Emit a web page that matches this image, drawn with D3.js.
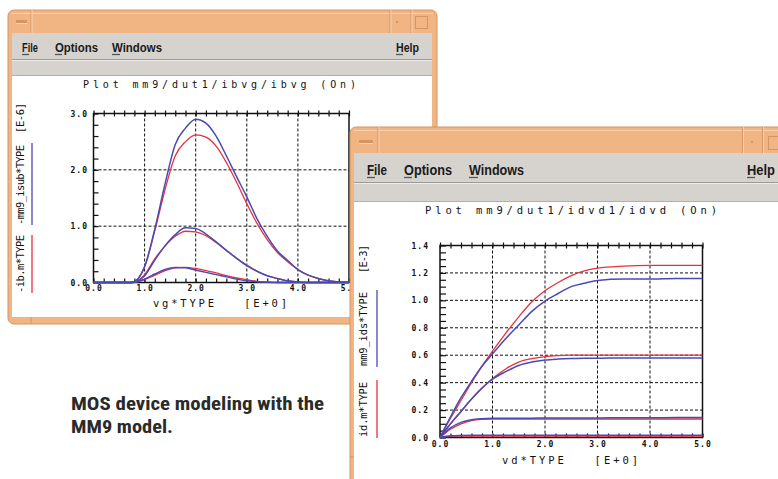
<!DOCTYPE html>
<html>
<head>
<meta charset="utf-8">
<script src="https://cdn.jsdelivr.net/npm/d3@7"></script>
<style>
  body { margin: 0; background: #fff; }
  svg { display: block; }
</style>
</head>
<body>
<svg id="chart" width="778" height="479"></svg>
<script>
// ---- Substrate current vs gate voltage (ibvg), units 1e-6 ----
const vgSweep   = [0, 0.5, 0.75, 1.0, 1.2, 1.4, 1.6, 1.8, 2.0, 2.2, 2.4, 2.6, 2.8, 3.0, 3.2, 3.4, 3.6, 3.8, 4.0, 4.2, 4.4, 4.6, 4.8, 5.0];
const ibSimHigh  = [0, 0, 0, 0.28, 0.95, 1.75, 2.45, 2.74, 2.90, 2.83, 2.60, 2.25, 1.88, 1.52, 1.13, 0.82, 0.56, 0.39, 0.23, 0.13, 0.07, 0.03, 0.01, 0];
const ibMeasHigh = [0, 0, 0, 0.28, 0.92, 1.65, 2.25, 2.50, 2.62, 2.58, 2.42, 2.13, 1.78, 1.40, 1.05, 0.76, 0.53, 0.37, 0.23, 0.13, 0.07, 0.03, 0.01, 0];
const ibSimMid   = [0, 0, 0, 0.12, 0.40, 0.65, 0.85, 0.97, 0.96, 0.86, 0.72, 0.57, 0.43, 0.30, 0.20, 0.12, 0.07, 0.03, 0.01, 0, 0, 0, 0, 0];
const ibMeasMid  = [0, 0, 0, 0.14, 0.42, 0.65, 0.82, 0.91, 0.90, 0.83, 0.71, 0.57, 0.43, 0.31, 0.20, 0.12, 0.07, 0.03, 0.01, 0, 0, 0, 0, 0];
const ibSimLow   = [0, 0, 0, 0.06, 0.15, 0.23, 0.265, 0.26, 0.22, 0.18, 0.14, 0.10, 0.06, 0.03, 0.015, 0.005, 0, 0, 0, 0, 0, 0, 0, 0];
const ibMeasLow  = [0, 0, 0, 0.05, 0.13, 0.21, 0.26, 0.27, 0.25, 0.21, 0.17, 0.12, 0.08, 0.05, 0.02, 0.01, 0, 0, 0, 0, 0, 0, 0, 0];
const vgTicks = [0, 1, 2, 3, 4, 5];
const ibTicks = [0, 1, 2, 3];

// ---- Drain current vs drain voltage (idvd), units 1e-3 ----
const vdSweep    = [0, 0.2, 0.4, 0.6, 0.8, 1.0, 1.25, 1.5, 1.75, 2.0, 2.25, 2.5, 2.75, 3.0, 3.5, 4.0, 4.5, 5.0];
const idMeasHigh = [0, 0.14, 0.27, 0.40, 0.52, 0.63, 0.76, 0.88, 0.99, 1.07, 1.13, 1.18, 1.215, 1.235, 1.25, 1.255, 1.255, 1.255];
const idSimHigh  = [0, 0.15, 0.29, 0.41, 0.52, 0.61, 0.72, 0.82, 0.92, 0.995, 1.05, 1.10, 1.125, 1.145, 1.155, 1.155, 1.16, 1.16];
const idMeasMid  = [0, 0.10, 0.19, 0.28, 0.36, 0.43, 0.50, 0.55, 0.575, 0.59, 0.597, 0.60, 0.60, 0.60, 0.60, 0.60, 0.60, 0.60];
const idSimMid   = [0, 0.10, 0.19, 0.28, 0.36, 0.425, 0.48, 0.525, 0.55, 0.565, 0.572, 0.576, 0.578, 0.578, 0.58, 0.58, 0.58, 0.58];
const idMeasLow  = [0, 0.06, 0.10, 0.123, 0.132, 0.135, 0.135, 0.135, 0.135, 0.135, 0.135, 0.135, 0.135, 0.135, 0.135, 0.135, 0.135, 0.135];
const idSimLow   = [0, 0.07, 0.11, 0.13, 0.137, 0.14, 0.14, 0.141, 0.141, 0.142, 0.142, 0.142, 0.143, 0.143, 0.144, 0.144, 0.145, 0.145];
const idMeasZero = [0, 0.008, 0.010, 0.011, 0.011, 0.011, 0.011, 0.011, 0.011, 0.011, 0.011, 0.011, 0.011, 0.011, 0.011, 0.011, 0.011, 0.011];
const idSimZero  = [0, 0.012, 0.015, 0.016, 0.016, 0.016, 0.016, 0.016, 0.016, 0.016, 0.016, 0.016, 0.016, 0.016, 0.016, 0.016, 0.016, 0.016];
const vdTicks = [0, 1, 2, 3, 4, 5];
const idTicks = [0, 0.2, 0.4, 0.6, 0.8, 1.0, 1.2, 1.4];

const menuItems = ["File", "Options", "Windows", "Help"];

// ---- palette ----
const ORANGE = "#f1b583", ORANGE_DK = "#d49463", ORANGE_LT = "#f9d3b0";
const GREY = "#d6d3cf", GREY_DK = "#9c9a98";
const MEAS = "#e8303e", SIM = "#4a4ab6";
const MONO = "'DejaVu Sans Mono', 'Liberation Mono', monospace";
const SANS = "'Liberation Sans', Arial, sans-serif";

const svg = d3.select("#chart");

// Draws a Motif-style window frame with title bar, menu bar and white client area.
function drawWindow(w) {
  const g = svg.append("g");
  g.append("rect").attr("x", w.x).attr("y", w.y).attr("width", w.w).attr("height", w.h)
    .attr("rx", 6).attr("fill", ORANGE).attr("stroke", ORANGE_DK).attr("stroke-width", 1);
  // title-bar inner edge lines
  g.append("line").attr("x1", w.x + 4).attr("x2", w.x + w.w - 4).attr("y1", w.y + 3.5).attr("y2", w.y + 3.5)
    .attr("stroke", ORANGE_LT);
  w.seps.forEach(sx => {
    g.append("line").attr("x1", sx).attr("x2", sx).attr("y1", w.y).attr("y2", w.menuTop)
      .attr("stroke", ORANGE_DK);
    g.append("line").attr("x1", sx + 1).attr("x2", sx + 1).attr("y1", w.y).attr("y2", w.menuTop)
      .attr("stroke", ORANGE_LT);
  });
  // minimise bar
  g.append("rect").attr("x", w.minX).attr("y", w.minY).attr("width", w.minW).attr("height", 3)
    .attr("fill", ORANGE_DK);
  g.append("line").attr("x1", w.minX).attr("x2", w.minX + w.minW).attr("y1", w.minY + 3.5).attr("y2", w.minY + 3.5)
    .attr("stroke", ORANGE_LT);
  // small dot button and square button
  g.append("rect").attr("x", w.dotX).attr("y", w.dotY).attr("width", 2).attr("height", 2).attr("fill", ORANGE_DK);
  g.append("rect").attr("x", w.sqX + 0.5).attr("y", w.sqY + 0.5).attr("width", w.sqS).attr("height", w.sqS)
    .attr("fill", "none").attr("stroke", ORANGE_DK);
  // menu bar + secondary strip + client area
  const ix = w.x + 4, iw = w.innerW;
  g.append("rect").attr("x", ix).attr("y", w.menuTop).attr("width", iw).attr("height", w.menuH).attr("fill", GREY);
  g.append("line").attr("x1", ix).attr("x2", ix + iw).attr("y1", w.menuTop + w.menuH - 0.5).attr("y2", w.menuTop + w.menuH - 0.5)
    .attr("stroke", GREY_DK);
  g.append("line").attr("x1", ix).attr("x2", ix + iw).attr("y1", w.menuTop + w.menuH + 0.5).attr("y2", w.menuTop + w.menuH + 0.5)
    .attr("stroke", "#eeece9");
  g.append("rect").attr("x", ix).attr("y", w.menuTop + w.menuH + 1).attr("width", iw).attr("height", w.stripH).attr("fill", GREY);
  g.append("line").attr("x1", ix).attr("x2", ix + iw).attr("y1", w.clientTop - 0.5).attr("y2", w.clientTop - 0.5)
    .attr("stroke", "#b2b0ae");
  g.append("rect").attr("x", ix).attr("y", w.clientTop).attr("width", iw).attr("height", w.clientH).attr("fill", "#fff");
  // frame notches
  (w.notches || []).forEach(n => {
    g.append("line").attr("x1", n[0]).attr("x2", n[2]).attr("y1", n[1]).attr("y2", n[3]).attr("stroke", ORANGE_DK);
  });
  // menu entries
  menuItems.forEach((label, i) => {
    const m = w.menu[i];
    g.append("text").attr("x", m[0]).attr("y", w.menuBase).text(label)
      .attr("font-family", SANS).attr("font-weight", "bold").attr("font-size", w.menuSize)
      .attr("fill", "#1a1a1a").attr("textLength", m[1]).attr("lengthAdjust", "spacingAndGlyphs");
    g.append("line").attr("x1", m[0]).attr("x2", m[0] + m[2]).attr("y1", w.menuBase + 2.5).attr("y2", w.menuBase + 2.5)
      .attr("stroke", "#555").attr("stroke-width", 1.3);
  });
  // plot caption inside client area
  g.append("text").attr("x", w.title[0]).attr("y", w.title[1]).text(w.title[3])
    .attr("font-family", MONO).attr("font-size", w.titleSize).attr("fill", "#111")
    .style("white-space", "pre").attr("textLength", w.title[2]).attr("lengthAdjust", "spacing");
  return g;
}

// Draws a plot: dashed grid, minor ticks, frame, tick labels, curves and axis titles.
function drawPlot(g, o) {
  const x = d3.scaleLinear().domain([0, 5]).range([o.left, o.right]);
  const y = d3.scaleLinear().domain([0, o.yMax]).range([o.bottom, o.top]);

  // major grid
  g.append("g").selectAll("line").data(o.xTicks.filter(v => v > 0 && v < 5)).join("line")
    .attr("x1", d => x(d)).attr("x2", d => x(d)).attr("y1", o.top).attr("y2", o.bottom)
    .attr("stroke", "#111").attr("stroke-dasharray", "3,2").attr("stroke-width", 1);
  g.append("g").selectAll("line").data(o.yTicks.filter(v => v > 0 && v < o.yMax - 1e-9)).join("line")
    .attr("x1", o.left).attr("x2", o.right).attr("y1", d => y(d)).attr("y2", d => y(d))
    .attr("stroke", "#111").attr("stroke-dasharray", "3,2").attr("stroke-width", 1);

  // minor ticks
  const minorX = d3.range(0, 5.0001, 0.2);
  const minorY = d3.range(0, o.yMax + 1e-6, o.yMinor);
  const topAx = g.append("g").attr("transform", `translate(0,${o.top})`)
    .call(d3.axisTop(x).tickValues(minorX).tickSize(3).tickFormat(""));
  topAx.selectAll(".tick line").attr("y1", 3).attr("y2", -3).attr("stroke", "#111").attr("stroke-width", 1.2);
  topAx.select(".domain").remove();
  const botAx = g.append("g").attr("transform", `translate(0,${o.bottom})`)
    .call(d3.axisBottom(x).tickValues(minorX).tickSize(-4).tickFormat(""));
  botAx.selectAll(".tick line").attr("stroke", "#111").attr("stroke-width", 1.2);
  botAx.select(".domain").remove();
  const leftAx = g.append("g").attr("transform", `translate(${o.left},0)`)
    .call(d3.axisLeft(y).tickValues(minorY).tickSize(-o.yTickLen).tickFormat(""));
  leftAx.selectAll(".tick line").attr("stroke", "#111").attr("stroke-width", 1.2);
  leftAx.select(".domain").remove();

  // frame
  g.append("rect").attr("x", o.left).attr("y", o.top).attr("width", o.right - o.left).attr("height", o.bottom - o.top)
    .attr("fill", "none").attr("stroke", "#111").attr("stroke-width", 1.5);

  // tick labels
  const xLab = g.append("g").attr("transform", `translate(0,${o.bottom})`)
    .call(d3.axisBottom(x).tickValues(o.xTicks).tickSize(0).tickPadding(o.xPad).tickFormat(d3.format(".1f")));
  xLab.select(".domain").remove();
  const yLab = g.append("g").attr("transform", `translate(${o.left},0)`)
    .call(d3.axisLeft(y).tickValues(o.yTicks).tickSize(0).tickPadding(o.yPad).tickFormat(d3.format(".1f")));
  yLab.select(".domain").remove();
  [xLab, yLab].forEach(a => a.attr("font-family", MONO).attr("font-size", 8).attr("font-weight", "bold")
    .selectAll("text").attr("fill", "#111").attr("letter-spacing", 1));

  // curves: measured (red) under simulated (blue)
  const line = d3.line().x(d => x(d[0])).y(d => y(d[1])).curve(d3.curveMonotoneX);
  o.series.forEach(s => {
    g.append("path").datum(o.sweep.map((v, i) => [v, s.values[i]]))
      .attr("d", line).attr("fill", "none").attr("stroke", s.color)
      .attr("stroke-width", s.color === SIM ? 1.5 : 1.3).attr("stroke-linejoin", "round");
  });

  // x-axis title
  g.append("text").attr("x", o.xTitle[0]).attr("y", o.xTitle[1]).text(o.xTitle[3])
    .attr("font-family", MONO).attr("font-size", 10.5).attr("fill", "#111")
    .style("white-space", "pre").attr("textLength", o.xTitle[2]).attr("lengthAdjust", "spacing");

  // rotated y-axis title pieces, with legend strokes beside them
  o.yTitle.forEach(p => {
    g.append("text").attr("transform", `translate(${o.yTitleX},${p.start}) rotate(-90)`).text(p.text)
      .attr("font-family", MONO).attr("font-size", 10.5).attr("fill", "#111")
      .attr("textLength", p.len).attr("lengthAdjust", "spacing");
    if (p.color) {
      g.append("line").attr("x1", o.legendX).attr("x2", o.legendX).attr("y1", p.lineFrom).attr("y2", p.lineTo)
        .attr("stroke", p.color).attr("stroke-width", 1.3);
    }
  });
}

// ---------- left window: ibvg ----------
const winA = drawWindow({
  x: 8, y: 10, w: 429, h: 314, innerW: 420,
  seps: [31, 390, 411],
  minX: 16, minY: 20, minW: 11, dotX: 396, dotY: 21, sqX: 415, sqY: 16, sqS: 12,
  menuTop: 33, menuH: 27, stripH: 15, clientTop: 76, clientH: 241,
  menuBase: 52, menuSize: 13,
  menu: [[22, 16, 7], [55, 43, 7], [112, 50, 8], [396, 23, 7]],
  title: [83, 87.5, 273, "Plot mm9/dut1/ibvg/ibvg (On)"], titleSize: 10,
  notches: [[31, 317, 31, 324]]
});

drawPlot(winA, {
  left: 93.5, right: 349, top: 113.5, bottom: 282.5, yMax: 3, yMinor: 0.2, yTickLen: 5,
  xTicks: vgTicks, yTicks: ibTicks, xPad: 3, yPad: 5.5,
  sweep: vgSweep,
  series: [
    { values: ibMeasHigh, color: MEAS }, { values: ibMeasMid, color: MEAS }, { values: ibMeasLow, color: MEAS },
    { values: ibSimHigh, color: SIM }, { values: ibSimMid, color: SIM }, { values: ibSimLow, color: SIM }
  ],
  xTitle: [153, 307, 134, "vg*TYPE   [E+0]"],
  yTitleX: 23.5, legendX: 32,
  yTitle: [
    { text: "-ib.m*TYPE", start: 293, len: 58, color: MEAS, lineFrom: 235, lineTo: 293 },
    { text: "-mm9_isub*TYPE", start: 225, len: 80, color: SIM, lineFrom: 143, lineTo: 225 },
    { text: "[E-6]", start: 133, len: 30 }
  ]
});

// ---------- right window: idvd ----------
const winB = drawWindow({
  x: 350, y: 127, w: 445, h: 370, innerW: 437,
  seps: [378, 742.5, 762.5],
  minX: 359, minY: 140, minW: 14, dotX: 751, dotY: 141, sqX: 768, sqY: 136, sqS: 13,
  menuTop: 153, menuH: 30, stripH: 17, clientTop: 202, clientH: 290,
  menuBase: 175, menuSize: 14,
  menu: [[367, 20, 8], [404, 48, 8], [469, 55, 9], [747, 28, 8]],
  title: [425, 214, 292, "Plot mm9/dut1/idvd1/idvd (On)"], titleSize: 10.5,
  notches: [[350, 457, 354, 457]]
});

drawPlot(winB, {
  left: 440, right: 702.5, top: 245.5, bottom: 437.5, yMax: 1.4, yMinor: 0.05, yTickLen: 6,
  xTicks: vdTicks, yTicks: idTicks, xPad: 4, yPad: 11,
  sweep: vdSweep,
  series: [
    { values: idMeasZero, color: MEAS }, { values: idMeasLow, color: MEAS },
    { values: idMeasMid, color: MEAS }, { values: idMeasHigh, color: MEAS },
    { values: idSimZero, color: SIM }, { values: idSimLow, color: SIM },
    { values: idSimMid, color: SIM }, { values: idSimHigh, color: SIM }
  ],
  xTitle: [502, 463.5, 136, "vd*TYPE   [E+0]"],
  yTitleX: 366.5, legendX: 377,
  yTitle: [
    { text: "id.m*TYPE", start: 437, len: 55, color: MEAS, lineFrom: 380, lineTo: 438 },
    { text: "mm9_ids*TYPE", start: 366, len: 74, color: SIM, lineFrom: 290, lineTo: 367 },
    { text: "[E-3]", start: 273, len: 28 }
  ]
});

// ---------- caption ----------
const caption = svg.append("g").attr("font-family", "'Liberation Sans Narrow', 'Roboto Condensed', 'Liberation Sans', Arial, sans-serif")
  .attr("font-weight", "bold").attr("font-size", 19).attr("fill", "#2a2a2a");
caption.append("text").attr("x", 71).attr("y", 410).text("MOS device modeling with the")
  .attr("textLength", 253).attr("lengthAdjust", "spacingAndGlyphs");
caption.append("text").attr("x", 71).attr("y", 433).text("MM9 model.")
  .attr("textLength", 102).attr("lengthAdjust", "spacingAndGlyphs");
</script>
</body>
</html>
